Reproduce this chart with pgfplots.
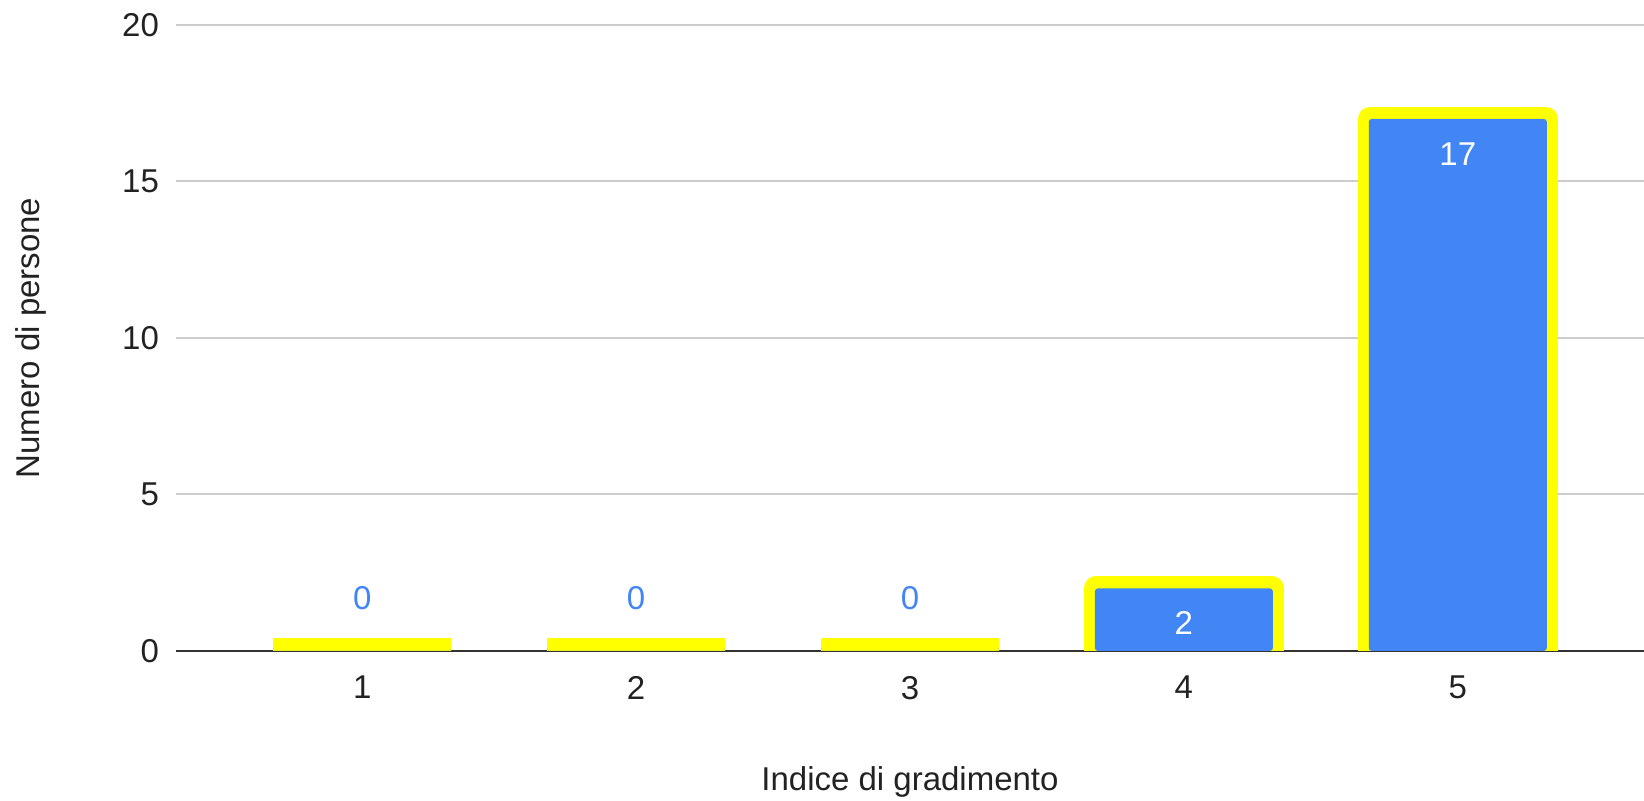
\documentclass[border=0pt]{standalone}
\usepackage{pgfplots}
\pgfplotsset{compat=1.18}
\usepackage{pgfplotstable}
\usepackage{fontspec}
\setmainfont{Liberation Sans}
\definecolor{gblue}{HTML}{4285F4}
\definecolor{gyellow}{HTML}{FFFF00}
\definecolor{ggrid}{HTML}{CCCCCC}
\definecolor{gtext}{HTML}{222222}
\pgfplotstableread{
x y
1 0
2 0
3 0
4 2
5 17
}\data
\begin{document}
\begin{tikzpicture}
\begin{axis}[
 scale only axis, width=734pt, height=313pt,
 xmin=0.32, xmax=5.68, ymin=0, ymax=20,
 xtick={1,2,3,4,5}, ytick={0,5,10,15,20},
 axis line style={draw=none},
 major tick length=0pt,
 ymajorgrids, grid style={ggrid, line width=1pt},
 extra y ticks={0}, extra y tick labels={},
 extra y tick style={grid style={black!80, line width=1.2pt}},
 tick label style={font=\fontsize{16.5}{20}\selectfont, text=gtext},
 yticklabel style={xshift=-5pt},
 xticklabel style={yshift=-9pt},
 /pgf/number format/assume math mode=true,
 xlabel={Indice di gradimento}, ylabel={Numero di persone},
 label style={font=\fontsize{16.5}{20}\selectfont, text=gtext},
 xlabel style={at={(axis description cs:0.5,-0.2100)}, anchor=center},
 ylabel style={at={(axis description cs:-0.0985,0.5)}, anchor=center},
]
% yellow borders of the zero bars (square strips)
\addplot[ybar, bar shift=0pt, bar width=89pt, draw=gyellow, fill=gyellow, line width=13pt, line join=miter,
  restrict y to domain=-1:0.5] table[x=x,y=y]{\data};
% yellow borders of the other bars (rounded outer corners)
\addplot[ybar, bar shift=0pt, bar width=88pt, draw=gyellow, fill=gyellow, line width=12pt, line join=round,
  restrict y to domain=0.5:100] table[x=x,y=y]{\data};
% blue bars
\addplot[ybar, bar shift=0pt, bar width=89pt, fill=gblue, draw=none, rounded corners=1.5pt] table[x=x,y=y]{\data};
% value labels
\addplot[draw=none, mark=none, restrict y to domain=-1:0.5,
  point meta=y, nodes near coords,
  every node near coord/.style={anchor=center, yshift=26.5pt, text=gblue, font=\fontsize{16.5}{20}\selectfont}]
  table[x=x,y=y]{\data};
\addplot[draw=none, mark=none, restrict y to domain=0.5:100,
  point meta=y, nodes near coords,
  every node near coord/.style={anchor=center, yshift=-17.5pt, text=white, font=\fontsize{16.5}{20}\selectfont}]
  table[x=x,y=y]{\data};
\coordinate (bl) at (rel axis cs:0,0);
\coordinate (tr) at (rel axis cs:1,1);
\end{axis}
\pgfresetboundingbox
\path[use as bounding box] ([xshift=-88pt,yshift=-75pt]bl) rectangle ([yshift=12.5pt]tr);
\end{tikzpicture}
\end{document}
